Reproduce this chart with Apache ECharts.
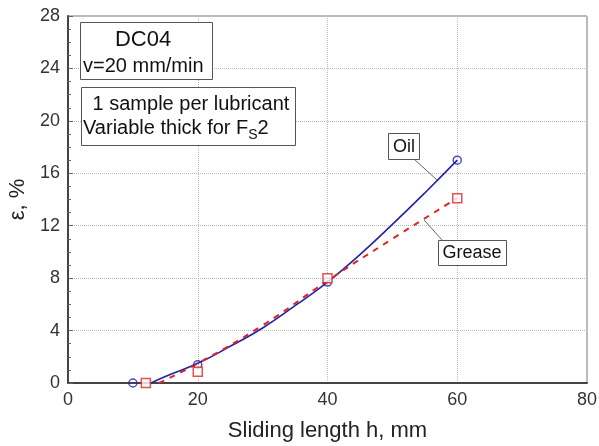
<!DOCTYPE html>
<html>
<head>
<meta charset="utf-8">
<script src="https://cdn.jsdelivr.net/npm/echarts@6/dist/echarts.min.js"></script>
<style>
html,body{margin:0;padding:0;background:#fff;}
#c{width:599px;height:446px;}
</style>
</head>
<body>
<div id="c"></div>
<script>
// ---- data ----
const xTicks = [0, 20, 40, 60, 80];
const yTicks = [0, 4, 8, 12, 16, 20, 24, 28];
const oilX = [10, 20, 40, 60];
const oilY = [0, 1.4, 7.7, 17.0];
const greaseX = [12, 20, 40, 60];
const greaseY = [0, 0.85, 8.0, 14.1];
const oilFitX = [12.8, 15, 20, 25, 30, 35, 40, 45, 50, 55, 60];
const oilFitY = [0, 0.5, 1.5, 2.8, 4.2, 5.9, 7.7, 9.8, 12.1, 14.5, 17.0];
const greaseFitX = [14, 20, 30, 40, 50, 60];
const greaseFitY = [0, 1.5, 4.4, 7.8, 11.0, 14.1];

const zip = (xs, ys) => xs.map((x, i) => [x, ys[i]]);
const FONT = '"Liberation Sans", Arial, sans-serif';

const chart = echarts.init(document.getElementById('c'), null, {renderer: 'canvas'});

const boxStyle = {fill: '#fff', stroke: '#555', lineWidth: 1};

chart.setOption({
  animation: false,
  backgroundColor: '#fff',
  grid: {left: 68, right: 12, top: 16, bottom: 63, containLabel: false, outerBoundsMode: 'none',
         show: true, borderColor: '#777', borderWidth: 1, backgroundColor: 'transparent'},
  xAxis: {
    type: 'value', min: xTicks[0], max: xTicks[xTicks.length - 1], interval: 20,
    name: 'Sliding length h, mm', nameLocation: 'middle', nameGap: 37,
    nameTextStyle: {fontFamily: FONT, fontSize: 22, color: '#222'},
    axisLine: {show: true, lineStyle: {color: '#444', width: 2}},
    axisTick: {show: false},
    axisLabel: {fontFamily: FONT, fontSize: 18, color: '#333', margin: 8},
    splitLine: {show: true, lineStyle: {color: '#bbb', type: 'dotted', width: 1}}
  },
  yAxis: {
    type: 'value', min: yTicks[0], max: yTicks[yTicks.length - 1], interval: 4,
    name: 'ε, %', nameLocation: 'middle', nameGap: 37,
    nameTextStyle: {fontFamily: FONT, fontSize: 22, color: '#222'},
    axisLine: {show: true, lineStyle: {color: '#444', width: 2}},
    axisTick: {show: true, inside: true, length: 5, lineStyle: {color: '#666'}},
    minorTick: {show: true, splitNumber: 4, length: 3, lineStyle: {color: '#666'}},
    axisLabel: {fontFamily: FONT, fontSize: 18, color: '#333', margin: 8},
    splitLine: {show: true, lineStyle: {color: '#bbb', type: 'dotted', width: 1}}
  },
  series: [
    {type: 'line', data: zip(oilFitX, oilFitY), smooth: true, showSymbol: false,
     lineStyle: {color: '#2222a8', width: 1.6}, z: 3},
    {type: 'line', data: zip(greaseFitX, greaseFitY), smooth: true, showSymbol: false,
     lineStyle: {color: '#e02424', width: 2, type: [6, 6]}, z: 3},
    {type: 'scatter', data: zip(oilX, oilY), symbol: 'circle', symbolSize: 8,
     itemStyle: {color: 'rgba(255,255,255,0)', borderColor: '#2222a8', borderWidth: 1.5}, z: 4},
    {type: 'scatter', data: zip(greaseX, greaseY), symbol: 'rect', symbolSize: 9,
     itemStyle: {color: '#fff', borderColor: '#e02424', borderWidth: 1.5}, z: 5}
  ],
  graphic: [
    {type: 'rect', shape: {x: 80.5, y: 22.5, width: 132, height: 57}, style: boxStyle, z: 10},
    {type: 'text', x: 143, y: 40, z: 11, style: {text: 'DC04', font: '22px ' + FONT, fill: '#111', align: 'center', verticalAlign: 'middle'}},
    {type: 'text', x: 83, y: 66, z: 11, style: {text: 'v=20 mm/min', font: '20px ' + FONT, fill: '#111', align: 'left', verticalAlign: 'middle'}},
    {type: 'rect', shape: {x: 81.5, y: 87.5, width: 214, height: 58}, style: boxStyle, z: 10},
    {type: 'text', x: 87, y: 104, z: 11, style: {text: ' 1 sample per lubricant', font: '20px ' + FONT, fill: '#111', align: 'left', verticalAlign: 'middle'}},
    {type: 'text', x: 83, y: 128, z: 11, style: {
      text: '{n|Variable thick for F}{s|S}{n|2}', align: 'left', verticalAlign: 'middle',
      rich: {n: {font: '20px ' + FONT, fill: '#111', verticalAlign: 'bottom'},
             s: {font: '14px ' + FONT, fill: '#111', verticalAlign: 'bottom', padding: [0, 0, -4, 0]}}}},
    // Oil label
    {type: 'line', shape: {x1: 414, y1: 159, x2: 437, y2: 180}, style: {stroke: '#666', lineWidth: 1}, z: 9},
    {type: 'rect', shape: {x: 388.5, y: 133.5, width: 31, height: 26}, style: boxStyle, z: 10},
    {type: 'text', x: 404, y: 147, z: 11, style: {text: 'Oil', font: '18px ' + FONT, fill: '#111', align: 'center', verticalAlign: 'middle'}},
    // Grease label
    {type: 'line', shape: {x1: 424, y1: 220, x2: 443, y2: 241}, style: {stroke: '#666', lineWidth: 1}, z: 9},
    {type: 'rect', shape: {x: 438.5, y: 240.5, width: 68, height: 25}, style: boxStyle, z: 10},
    {type: 'text', x: 472, y: 253, z: 11, style: {text: 'Grease', font: '18px ' + FONT, fill: '#111', align: 'center', verticalAlign: 'middle'}}
  ]
});
</script>
</body>
</html>
